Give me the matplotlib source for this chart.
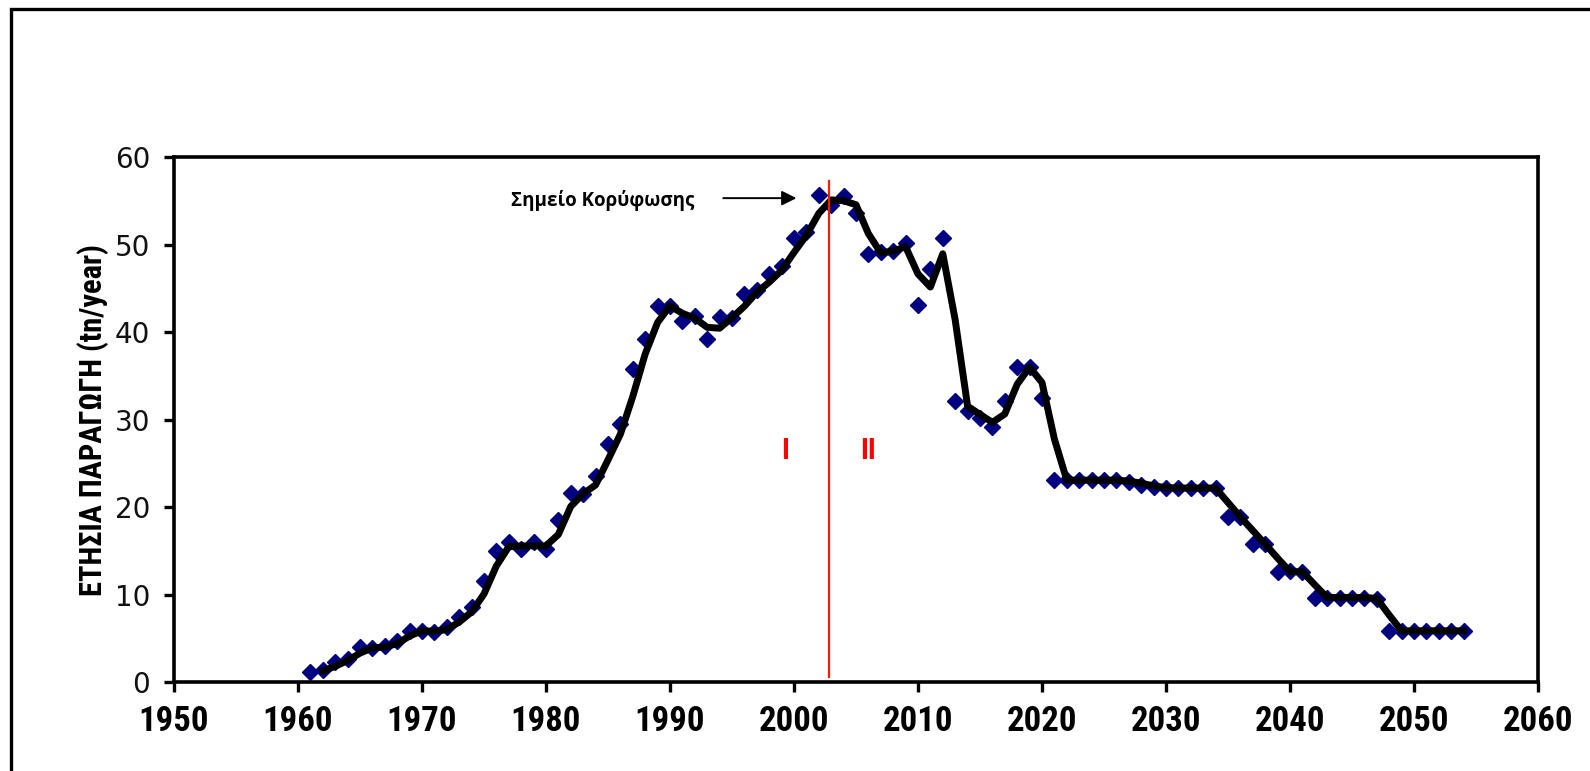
"""
Annual production curve with peak point (Hubbert-style plot).
"""

import matplotlib

matplotlib.use("Agg")

import matplotlib.pyplot as plt
import pandas as pd
from matplotlib import font_manager
from matplotlib.patches import Rectangle


years = list(range(1961, 2055))

production = [
    1.2, 1.4, 2.3, 2.7, 4.0, 3.9, 4.2, 4.7, 5.9, 5.9,        # 1961-1970
    5.8, 6.3, 7.5, 8.6, 11.6, 15.0, 16.0, 15.2, 16.0, 15.2,  # 1971-1980
    18.6, 21.6, 21.5, 23.6, 27.2, 29.5, 35.8, 39.2, 43.0, 43.0,  # 1981-1990
    41.3, 41.9, 39.2, 41.7, 41.6, 44.3, 44.8, 46.6, 47.5, 50.7,  # 1991-2000
    51.4, 55.7, 54.5, 55.5, 53.6, 48.9, 49.2, 49.3, 50.2, 43.1,  # 2001-2010
    47.2, 50.7, 32.1, 31.0, 30.2, 29.2, 32.1, 36.0, 36.0, 32.5,  # 2011-2020
    23.1, 23.1, 23.1, 23.1, 23.1, 23.1, 22.9, 22.6, 22.3, 22.2,  # 2021-2030
    22.2, 22.2, 22.2, 22.2, 18.9, 18.9, 15.8, 15.8, 12.6, 12.7,  # 2031-2040
    12.6, 9.7, 9.7, 9.7, 9.7, 9.7, 9.5, 5.9, 5.9, 5.9,          # 2041-2050
    5.9, 5.9, 5.9, 5.9,                                          # 2051-2054
]

peak_year = 2002.8
x_ticks = list(range(1950, 2061, 10))
y_ticks = list(range(0, 61, 10))


def pick_font(*names):
    available = {f.name for f in font_manager.fontManager.ttflist}
    for name in names:
        if name in available:
            return name
    return "DejaVu Sans"


narrow = pick_font("Liberation Sans Narrow", "Roboto Condensed", "DejaVu Sans")

series = pd.Series(production, index=years)
# moving-average trendline (period 2), like the spreadsheet trendline
trend = series.rolling(2).mean().dropna()

fig = plt.figure(figsize=(15.9, 7.71), dpi=100)
ax = fig.add_axes([0.1094, 0.1148, 0.8579, 0.6816])

ax.plot(
    series.index,
    series.values,
    linestyle="none",
    marker="D",
    markersize=8.5,
    color="#000080",
    zorder=2,
)

ax.plot(
    trend.index,
    trend.values,
    color="black",
    linewidth=5,
    solid_joinstyle="round",
    zorder=3,
)

ax.plot(
    [peak_year, peak_year],
    [0.6, 57.2],
    color="#ff1a00",
    linewidth=1.6,
    zorder=4,
)

ax.set_xlim(1950, 2060)
ax.set_ylim(0, 60)
ax.set_xticks(x_ticks)
ax.set_yticks(y_ticks)

for spine in ax.spines.values():
    spine.set_linewidth(2.6)

ax.tick_params(
    axis="both",
    direction="out",
    length=7,
    width=2.4,
)
ax.tick_params(axis="x", pad=9)
ax.tick_params(axis="y", pad=10)

for label in ax.get_xticklabels():
    label.set_fontfamily(narrow)
    label.set_fontweight("bold")
    label.set_fontsize(25)

for label in ax.get_yticklabels():
    label.set_fontfamily("DejaVu Sans")
    label.set_fontsize(20)
    label.set_color("#111111")

ax.set_ylabel(
    "ΕΤΗΣΙΑ ΠΑΡΑΓΩΓΗ (tn/year)",
    fontfamily=narrow,
    fontweight="bold",
    fontsize=22,
)
ax.yaxis.set_label_coords(-0.0475, 0.5)

ax.annotate(
    "",
    xy=(2000.2, 55.3),
    xytext=(1994.3, 55.3),
    arrowprops=dict(arrowstyle="-|>", color="black", lw=1.4,
                    mutation_scale=22, shrinkA=0, shrinkB=0),
)

ax.text(
    1977.2,
    55.0,
    "Σημείο Κορύφωσης",
    fontfamily="Open Sans",
    fontweight="bold",
    fontsize=13.5,
    ha="left",
    va="center",
)

ax.text(1999.3, 26.4, "I", color="red", fontfamily=narrow,
        fontweight="bold", fontsize=21, ha="center", va="center")
ax.text(2006.0, 26.4, "II", color="red", fontfamily=narrow,
        fontweight="bold", fontsize=21, ha="center", va="center")

# outer frame of the chart area, cut by the image edge on right and bottom
fig.patches.append(
    Rectangle(
        (11 / 1590, -0.1),
        2.0,
        1.1 - 9 / 771,
        transform=fig.transFigure,
        fill=False,
        edgecolor="black",
        linewidth=2.4,
    )
)

fig.savefig("out.png", dpi=100)
plt.close(fig)
